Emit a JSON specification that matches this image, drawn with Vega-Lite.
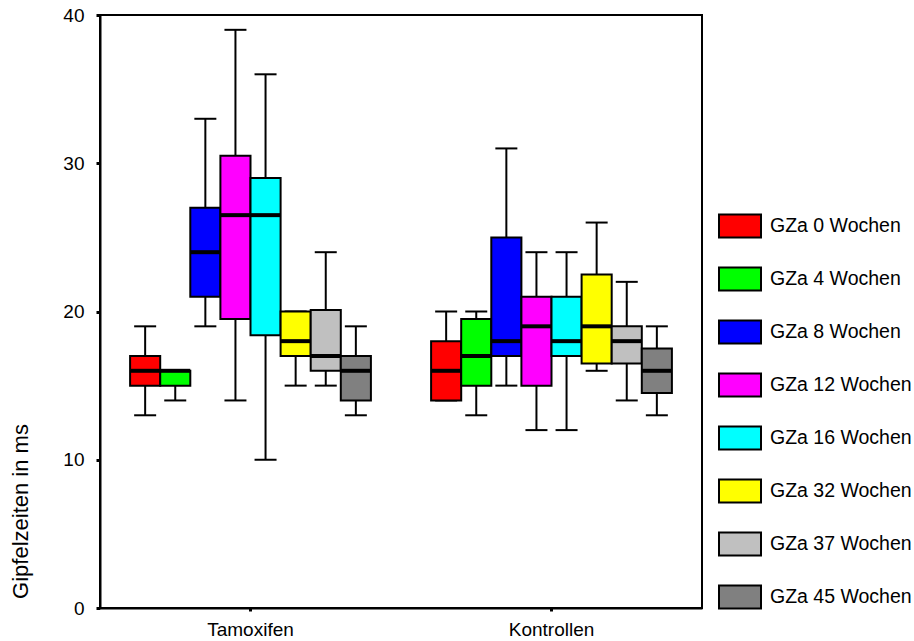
{
  "$schema": "https://vega.github.io/schema/vega-lite/v6.json",
  "width": 602,
  "height": 593,
  "autosize": "none",
  "padding": {"left": 100, "top": 15, "right": 212, "bottom": 33},
  "background": "white",
  "config": {
    "font": "Liberation Sans",
    "view": {"stroke": "black", "strokeWidth": 2},
    "axis": {"grid": false, "domainColor": "black", "domainWidth": 2, "tickColor": "black", "labelColor": "black", "titleColor": "black", "labelFont": "Liberation Sans", "titleFont": "Liberation Sans"}
  },
  "data": {
    "values": [
      {"group": "Tamoxifen", "series": "GZa 0 Wochen", "low": 13, "q1": 15, "median": 16, "q3": 17, "high": 19},
      {"group": "Tamoxifen", "series": "GZa 4 Wochen", "low": 14, "q1": 15, "median": 16, "q3": 16, "high": 16},
      {"group": "Tamoxifen", "series": "GZa 8 Wochen", "low": 19, "q1": 21, "median": 24, "q3": 27, "high": 33},
      {"group": "Tamoxifen", "series": "GZa 12 Wochen", "low": 14, "q1": 19.5, "median": 26.5, "q3": 30.5, "high": 39},
      {"group": "Tamoxifen", "series": "GZa 16 Wochen", "low": 10, "q1": 18.4, "median": 26.5, "q3": 29, "high": 36},
      {"group": "Tamoxifen", "series": "GZa 32 Wochen", "low": 15, "q1": 17, "median": 18, "q3": 20, "high": 20},
      {"group": "Tamoxifen", "series": "GZa 37 Wochen", "low": 15, "q1": 16, "median": 17, "q3": 20.1, "high": 24},
      {"group": "Tamoxifen", "series": "GZa 45 Wochen", "low": 13, "q1": 14, "median": 16, "q3": 17, "high": 19},
      {"group": "Kontrollen", "series": "GZa 0 Wochen", "low": 14, "q1": 14, "median": 16, "q3": 18, "high": 20},
      {"group": "Kontrollen", "series": "GZa 4 Wochen", "low": 13, "q1": 15, "median": 17, "q3": 19.5, "high": 20},
      {"group": "Kontrollen", "series": "GZa 8 Wochen", "low": 15, "q1": 17, "median": 18, "q3": 25, "high": 31},
      {"group": "Kontrollen", "series": "GZa 12 Wochen", "low": 12, "q1": 15, "median": 19, "q3": 21, "high": 24},
      {"group": "Kontrollen", "series": "GZa 16 Wochen", "low": 12, "q1": 17, "median": 18, "q3": 21, "high": 24},
      {"group": "Kontrollen", "series": "GZa 32 Wochen", "low": 16, "q1": 16.5, "median": 19, "q3": 22.5, "high": 26},
      {"group": "Kontrollen", "series": "GZa 37 Wochen", "low": 14, "q1": 16.5, "median": 18, "q3": 19, "high": 22},
      {"group": "Kontrollen", "series": "GZa 45 Wochen", "low": 13, "q1": 14.5, "median": 16, "q3": 17.5, "high": 19}
    ]
  },
  "encoding": {
    "x": {
      "field": "group", "type": "nominal", "sort": ["Tamoxifen", "Kontrollen"],
      "scale": {"paddingInner": 0, "paddingOuter": 0},
      "axis": {"title": null, "labelAngle": 0, "labelFontSize": 19, "tickSize": 3, "tickWidth": 3, "labelPadding": 9, "domainWidth": 2}
    },
    "xOffset": {
      "field": "series", "type": "nominal",
      "sort": ["GZa 0 Wochen", "GZa 4 Wochen", "GZa 8 Wochen", "GZa 12 Wochen", "GZa 16 Wochen", "GZa 32 Wochen", "GZa 37 Wochen", "GZa 45 Wochen"],
      "scale": {"paddingInner": 0, "paddingOuter": 1}
    }
  },
  "layer": [
    {
      "mark": {"type": "rule", "color": "black", "strokeWidth": 2},
      "encoding": {
        "y": {"field": "low", "type": "quantitative", "scale": {"domain": [0, 40], "nice": false},
          "axis": {"values": [0, 10, 20, 30, 40], "title": "Gipfelzeiten in ms", "labelFontSize": 19, "tickSize": 4, "tickWidth": 3, "labelPadding": 12,
            "titleFontSize": 22, "titleFontWeight": "normal", "titleAngle": -90, "titleX": -80, "titleY": 496, "titleAlign": "center", "titleBaseline": "middle"}},
        "y2": {"field": "high"}
      }
    },
    {
      "mark": {"type": "tick", "color": "black", "size": 22, "thickness": 2, "opacity": 1},
      "encoding": {"y": {"field": "low", "type": "quantitative"}}
    },
    {
      "mark": {"type": "tick", "color": "black", "size": 22, "thickness": 2, "opacity": 1},
      "encoding": {"y": {"field": "high", "type": "quantitative"}}
    },
    {
      "mark": {"type": "bar", "stroke": "black", "strokeWidth": 2, "opacity": 1},
      "encoding": {
        "y": {"field": "q1", "type": "quantitative"},
        "y2": {"field": "q3"},
        "color": {
          "field": "series", "type": "nominal",
          "scale": {
            "domain": ["GZa 0 Wochen", "GZa 4 Wochen", "GZa 8 Wochen", "GZa 12 Wochen", "GZa 16 Wochen", "GZa 32 Wochen", "GZa 37 Wochen", "GZa 45 Wochen"],
            "range": ["#ff0000", "#00ff00", "#0000ff", "#ff00ff", "#00ffff", "#ffff00", "#c0c0c0", "#808080"]
          },
          "legend": {
            "title": null, "orient": "none", "legendX": 618, "legendY": 189, "padding": 0,
            "symbolType": "M-1,-0.548H1V0.548H-1Z", "symbolSize": 1764, "symbolStrokeColor": "black", "symbolStrokeWidth": 2, "symbolOpacity": 1,
            "labelFontSize": 19.5, "labelColor": "black", "labelOffset": 8, "rowPadding": 15, "labelFont": "Liberation Sans", "labelLimit": 300
          }
        }
      }
    },
    {
      "mark": {"type": "tick", "color": "black", "size": 30, "thickness": 4, "opacity": 1},
      "encoding": {"y": {"field": "median", "type": "quantitative"}}
    }
  ]
}
